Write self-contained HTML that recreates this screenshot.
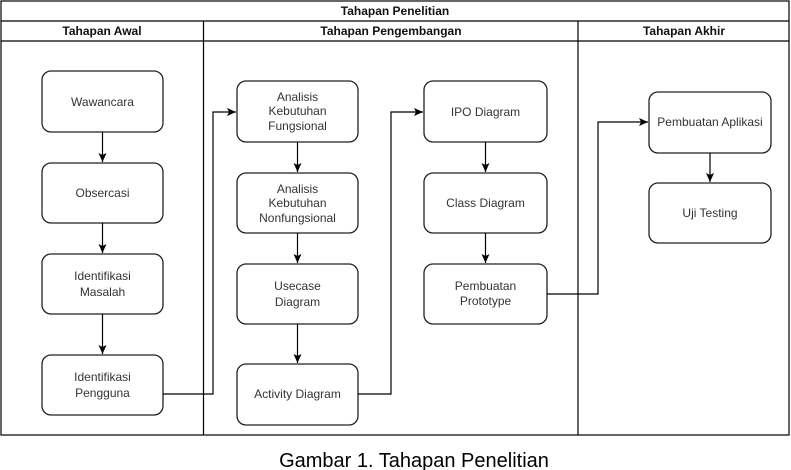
<!DOCTYPE html>
<html><head><meta charset="utf-8"><style>
html,body{margin:0;padding:0;background:#fff;}
svg{display:block;}
text{font-family:"Liberation Sans",sans-serif;}
</style></head><body>
<svg width="791" height="470" viewBox="0 0 791 470" xmlns="http://www.w3.org/2000/svg">
<defs><marker id="a" markerWidth="10" markerHeight="10" refX="9" refY="5" orient="auto" markerUnits="userSpaceOnUse"><path d="M0,1 L9,5 L0,9 L2,5 Z" fill="#000"/></marker></defs>
<g fill="none" stroke="#000" stroke-width="1.2">
<rect x="1" y="1" width="788" height="434"/>
<line x1="1" y1="21" x2="789" y2="21"/>
<line x1="1" y1="41" x2="789" y2="41"/>
<line x1="203.5" y1="21" x2="203.5" y2="435"/>
<line x1="578" y1="21" x2="578" y2="435"/>
</g>
<g font-size="12" font-weight="bold" text-anchor="middle" fill="#111">
<text x="395" y="15">Tahapan Penelitian</text>
<text x="102" y="35">Tahapan Awal</text>
<text x="391" y="35">Tahapan Pengembangan</text>
<text x="684" y="35">Tahapan Akhir</text>
</g>
<g fill="#fff" stroke="#222" stroke-width="1.3">
<rect x="42" y="71" width="121" height="61" rx="9"/>
<rect x="42" y="163" width="121" height="60" rx="9"/>
<rect x="42" y="254" width="121" height="60" rx="9"/>
<rect x="42" y="355" width="121" height="60" rx="9"/>
<rect x="237" y="81" width="121" height="61" rx="9"/>
<rect x="237" y="173" width="121" height="60" rx="9"/>
<rect x="237" y="264" width="121" height="60" rx="9"/>
<rect x="237" y="364" width="121" height="61" rx="9"/>
<rect x="424" y="81" width="123" height="61" rx="9"/>
<rect x="424" y="173" width="123" height="60" rx="9"/>
<rect x="424" y="264" width="123" height="60" rx="9"/>
<rect x="649" y="92" width="122" height="61" rx="9"/>
<rect x="649" y="183" width="122" height="60" rx="9"/>
</g>
<g fill="none" stroke="#000" stroke-width="1.2">
<line x1="102.5" y1="132" x2="102.5" y2="162" marker-end="url(#a)"/>
<line x1="102.5" y1="223" x2="102.5" y2="253" marker-end="url(#a)"/>
<line x1="102.5" y1="314" x2="102.5" y2="354" marker-end="url(#a)"/>
<line x1="297.5" y1="142" x2="297.5" y2="172" marker-end="url(#a)"/>
<line x1="297.5" y1="233" x2="297.5" y2="263" marker-end="url(#a)"/>
<line x1="297.5" y1="324" x2="297.5" y2="363" marker-end="url(#a)"/>
<line x1="485.5" y1="142" x2="485.5" y2="172" marker-end="url(#a)"/>
<line x1="485.5" y1="233" x2="485.5" y2="263" marker-end="url(#a)"/>
<line x1="710" y1="153" x2="710" y2="182" marker-end="url(#a)"/>
<polyline points="163,394 213,394 213,112 236,112" marker-end="url(#a)"/>
<polyline points="358,394 391,394 391,112 423,112" marker-end="url(#a)"/>
<polyline points="547,294 598,294 598,122 648,122" marker-end="url(#a)"/>
</g>
<g font-size="12" text-anchor="middle" fill="#333">
<text x="102.5" y="106">Wawancara</text>
<text x="102.5" y="197">Obsercasi</text>
<text x="102.5" y="280">Identifikasi</text><text x="102.5" y="296">Masalah</text>
<text x="102.5" y="381">Identifikasi</text><text x="102.5" y="397">Pengguna</text>
<text x="297.5" y="101">Analisis</text><text x="297.5" y="115">Kebutuhan</text><text x="297.5" y="130">Fungsional</text>
<text x="297.5" y="193">Analisis</text><text x="297.5" y="207">Kebutuhan</text><text x="297.5" y="222">Nonfungsional</text>
<text x="297.5" y="290">Usecase</text><text x="297.5" y="306">Diagram</text>
<text x="297.5" y="398">Activity Diagram</text>
<text x="485.5" y="116">IPO Diagram</text>
<text x="485.5" y="207">Class Diagram</text>
<text x="485.5" y="290">Pembuatan</text><text x="485.5" y="305">Prototype</text>
<text x="710" y="126">Pembuatan Aplikasi</text>
<text x="710" y="217">Uji Testing</text>
</g>
<text x="414" y="467" font-size="20" text-anchor="middle" fill="#000">Gambar 1. Tahapan Penelitian</text>
</svg>
</body></html>
